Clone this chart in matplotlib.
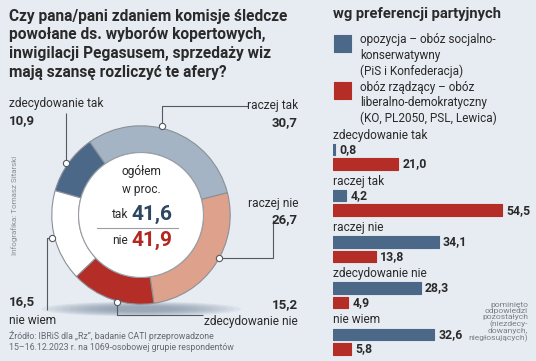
import matplotlib
matplotlib.use("Agg")
import numpy as np
import matplotlib.pyplot as plt
from matplotlib.patches import Circle, Ellipse

# dane
odpowiedzi = ["zdecydowanie tak", "raczej tak", "raczej nie", "zdecydowanie nie", "nie wiem"]
ogolem = [10.9, 30.7, 26.7, 15.2, 16.5]
ogolem_txt = ["10,9", "30,7", "26,7", "15,2", "16,5"]
suma_tak = "41,6"
suma_nie = "41,9"
opozycja = [0.8, 4.2, 34.1, 28.3, 32.6]
rzadzacy = [21.0, 54.5, 13.8, 4.9, 5.8]

BG = "#e7ecf2"
C_DARK = "#4b6889"
C_LIGHT = "#a4b4c4"
C_SALMON = "#dea18b"
C_RED = "#b42d26"
C_TEXT = "#2a2a2a"
kolory = [C_DARK, C_LIGHT, C_SALMON, C_RED, "white"]

plt.rcParams['font.family'] = ['Roboto', 'DejaVu Sans']

W, H = 536, 361
fig = plt.figure(figsize=(W / 100, H / 100), dpi=100)
fig.patch.set_facecolor(BG)

def px_axes(zorder):
	a = fig.add_axes([0, 0, 1, 1], zorder=zorder)
	a.set_xlim(0, W)
	a.set_ylim(H, 0)
	a.axis("off")
	a.patch.set_alpha(0)
	return a

bg = px_axes(0)
# cien pod wykresem
for k in range(10):
	bg.add_patch(Ellipse((141, 309), 200 - k * 14, 15 - k * 1.1,
		facecolor="#6f8299", alpha=0.09, edgecolor="none"))

# wykres kolowy
cx, cy, R = 141, 215, 91
axp = fig.add_axes([(cx - R) / W, (H - cy - R) / H, 2 * R / W, 2 * R / H], zorder=1)
axp.pie(ogolem, colors=kolory, startangle=164.2, counterclock=False, radius=1,
	wedgeprops=dict(width=0.3, edgecolor="#8b9097", linewidth=0.8))
axp.add_patch(Circle((0, 0), 0.70, facecolor="white", edgecolor="#9a9fa6", linewidth=0.8))
axp.set_xlim(-1.02, 1.02)
axp.set_ylim(-1.02, 1.02)
axp.patch.set_alpha(0)

ov = px_axes(2)

# tytul
tytul = ["Czy pana/pani zdaniem komisje śledcze",
	"powołane ds. wyborów kopertowych,",
	"inwigilacji Pegasusem, sprzedaży wiz",
	"mają szansę rozliczyć te afery?"]
for i, t in enumerate(tytul):
	ov.text(9, 16 + i * 18.7, t, fontsize=11.2, fontweight="bold", color=C_TEXT, va="center")

# srodek
ov.text(cx, 172, "ogółem", fontsize=8.6, ha="center", va="center", color=C_TEXT)
ov.text(cx, 190, "w proc.", fontsize=8.6, ha="center", va="center", color=C_TEXT)
ov.text(128, 215, "tak", fontsize=8.6, ha="right", va="center", color=C_TEXT)
ov.text(131, 214, suma_tak, fontsize=15, fontweight="bold", ha="left", va="center", color="#2c4762")
ov.plot([97, 178], [228, 228], color="#9a9fa6", lw=0.8)
ov.text(128, 240, "nie", fontsize=8.6, ha="right", va="center", color=C_TEXT)
ov.text(131, 240, suma_nie, fontsize=15, fontweight="bold", ha="left", va="center", color="#b0281f")

# linie odniesienia
LC = "#555a60"
linie = [
	([66, 66], [113, 163]),
	([162, 162, 248], [126, 106, 106]),
	([219, 273, 273], [258, 258, 220]),
	([117, 117, 203], [302, 315, 315]),
	([52, 47, 47], [238, 238, 310]),
]
for xs, ys in linie:
	ov.plot(xs, ys, color=LC, lw=0.8, solid_capstyle="butt")
kropki = [(66, 163), (162, 126), (219, 258), (117, 302), (52, 238)]
for (x, y) in kropki:
	ov.plot(x, y, "o", ms=4.5, mfc="white", mec=LC, mew=0.8)

# opisy przy wykresie
ov.text(9, 103, odpowiedzi[0], fontsize=8.6, va="center", color=C_TEXT)
ov.text(9, 121, ogolem_txt[0], fontsize=9.5, fontweight="bold", va="center", color=C_TEXT)
ov.text(298, 106, odpowiedzi[1], fontsize=8.6, va="center", ha="right", color=C_TEXT)
ov.text(298, 123, ogolem_txt[1], fontsize=9.5, fontweight="bold", va="center", ha="right", color=C_TEXT)
ov.text(298, 203, odpowiedzi[2], fontsize=8.6, va="center", ha="right", color=C_TEXT)
ov.text(298, 220, ogolem_txt[2], fontsize=9.5, fontweight="bold", va="center", ha="right", color=C_TEXT)
ov.text(298, 305, ogolem_txt[3], fontsize=9.5, fontweight="bold", va="center", ha="right", color=C_TEXT)
ov.text(298, 321, odpowiedzi[3], fontsize=8.6, va="center", ha="right", color=C_TEXT)
ov.text(9, 302, ogolem_txt[4], fontsize=9.5, fontweight="bold", va="center", color=C_TEXT)
ov.text(9, 320, odpowiedzi[4], fontsize=8.6, va="center", color=C_TEXT)

ov.text(15, 205, "Infografika: Tomasz Sitarski", fontsize=5.8, rotation=90,
	ha="center", va="center", color="#8a8f96")
ov.text(9, 336, "Źródło: IBRiS dla „Rz”, badanie CATI przeprowadzone", fontsize=6.3,
	va="center", color="#666a70")
ov.text(9, 348, "15–16.12.2023 r. na 1069-osobowej grupie respondentów", fontsize=6.3,
	va="center", color="#666a70")

# prawa strona
ov.text(333, 14, "wg preferencji partyjnych", fontsize=10.6, fontweight="bold",
	va="center", color=C_TEXT)
leg = [(C_DARK, ["opozycja – obóz socjalno-", "konserwatywny", "(PiS i Konfederacja)"], 40),
	(C_RED, ["obóz rządzący – obóz", "liberalno-demokratyczny", "(KO, PL2050, PSL, Lewica)"], 87)]
for kol, lines, y0 in leg:
	ov.add_patch(plt.Rectangle((334, y0 - 5), 17, 17, facecolor=kol, edgecolor=kol,
		lw=0.8, joinstyle="round"))
	for j, t in enumerate(lines):
		ov.text(360, y0 + j * 15.6, t, fontsize=8.5, va="center", color=C_TEXT)

axb = fig.add_axes([333 / W, 0, 186 / W, 1], zorder=1)
axb.set_xlim(0, 60)
axb.set_ylim(H, 0)
axb.axis("off")
axb.patch.set_alpha(0)
y_lab = 135 + 46.2 * np.arange(len(odpowiedzi))
axb.barh(y_lab + 14.5, opozycja, height=11.5, color=C_DARK, edgecolor=C_DARK, lw=0.8, joinstyle="round")
axb.barh(y_lab + 29, rzadzacy, height=11.5, color=C_RED, edgecolor=C_RED, lw=0.8, joinstyle="round")
for i, nazwa in enumerate(odpowiedzi):
	axb.text(0, y_lab[i], nazwa, fontsize=8.6, va="center", color=C_TEXT)
	axb.text(opozycja[i] + 1.4, y_lab[i] + 14.5, f"{opozycja[i]:.1f}".replace(".", ","),
		fontsize=8.8, fontweight="bold", va="center", color=C_TEXT)
	axb.text(rzadzacy[i] + 1.4, y_lab[i] + 29, f"{rzadzacy[i]:.1f}".replace(".", ","),
		fontsize=8.8, fontweight="bold", va="center", color=C_TEXT)

ov.text(528, 322, "pominięto\nodpowiedzi\npozostałych\n(niezdecy-\ndowanych,\nniegłosujących)",
	fontsize=6.1, ha="right", va="center", color="#7a7f86", linespacing=1.05)

fig.savefig("out.png", dpi=100, facecolor=BG)
